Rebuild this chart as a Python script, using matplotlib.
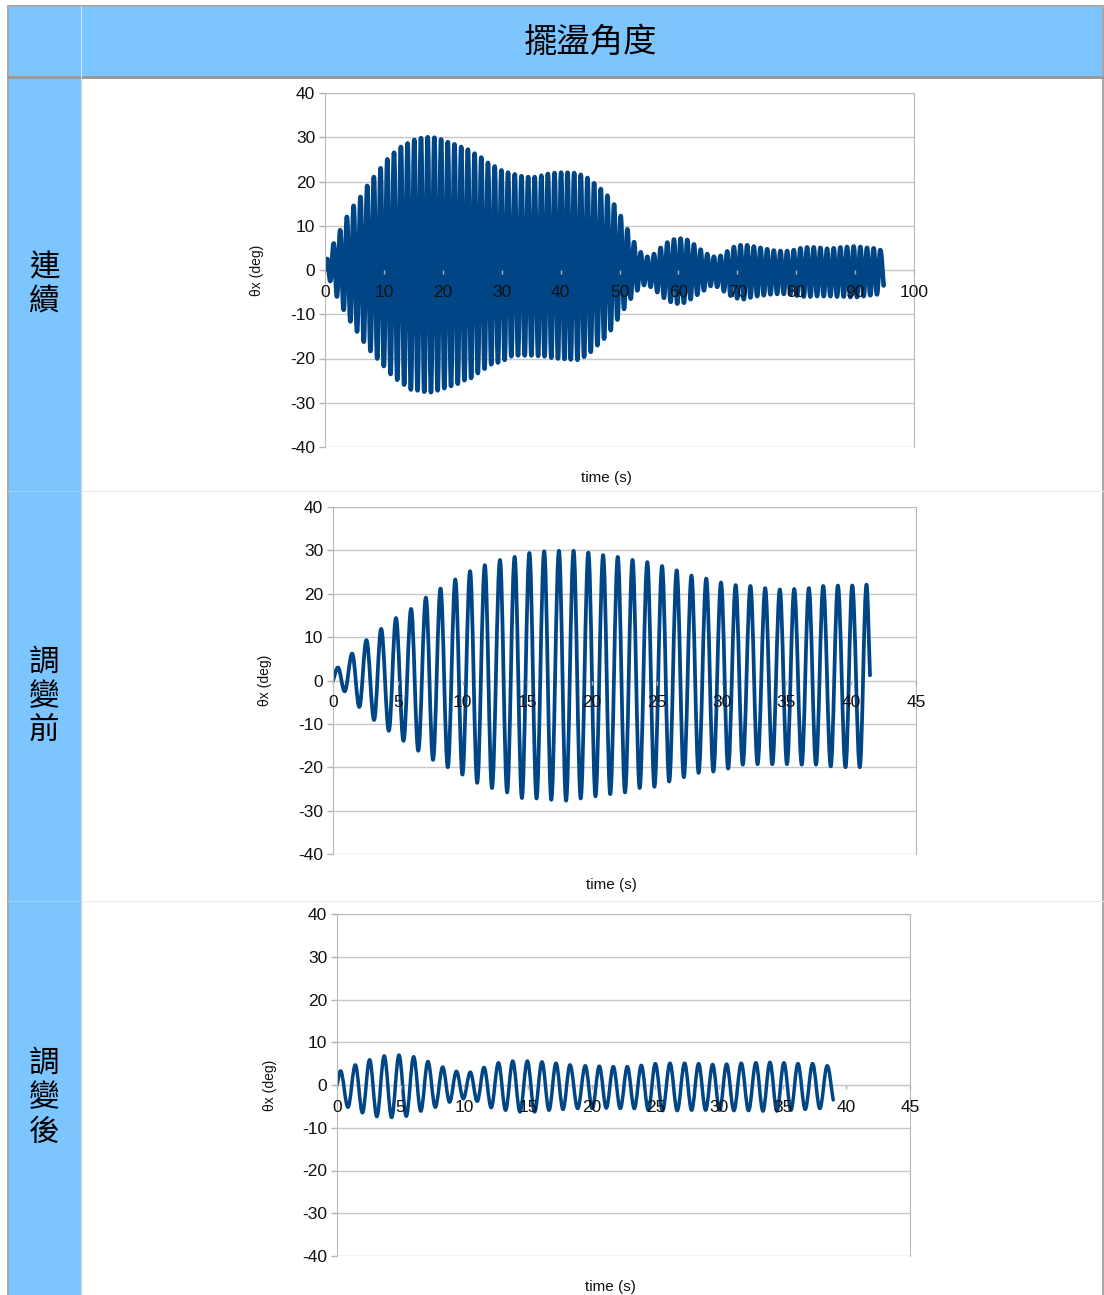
import matplotlib
matplotlib.use('Agg')
import matplotlib.pyplot as plt
from matplotlib.path import Path
from matplotlib.patches import PathPatch, Rectangle
from matplotlib.lines import Line2D

plt.rcParams['font.family'] = ['Liberation Sans', 'DejaVu Sans']
plt.rcParams['axes.unicode_minus'] = False

title = '擺盪角度'
row_labels = ['連\n續', '調\n變\n前', '調\n變\n後']

# --- 連續 (0-95 s): peaks and troughs ---
t1_max = [0.38, 1.48, 2.58, 3.72, 4.86, 6.03, 7.17, 8.30, 9.44, 10.58, 11.72, 12.89, 14.02,
          15.16, 16.30, 17.44, 18.57, 19.71, 20.85, 21.98, 23.12, 24.26, 25.40, 26.53, 27.67,
          28.81, 29.95, 31.08, 32.22, 33.36, 34.49, 35.60, 36.73, 37.84, 38.97, 40.08, 41.18,
          42.30, 43.43, 44.56, 45.69, 46.82, 47.95, 49.08, 50.21, 51.34, 52.47, 53.60, 54.73,
          55.86, 56.99, 58.12, 59.25, 60.38, 61.51, 62.64, 63.77, 64.90, 66.03, 67.16, 68.29,
          69.42, 70.55, 71.68, 72.81, 73.94, 75.07, 76.20, 77.33, 78.46, 79.59, 80.72, 81.85,
          82.98, 84.11, 85.24, 86.37, 87.50, 88.63, 89.76, 90.89, 92.02, 93.15, 94.28]
th1_max = [2.5, 6, 9, 12, 14.5, 16.5, 19, 21, 23, 25, 26.5, 27.8, 28.6, 29.4, 29.8, 30, 29.9,
           29.5, 28.9, 28.4, 27.8, 27.2, 26.3, 25.4, 24.2, 23.4, 22.5, 22, 21.6, 21.2, 21, 21,
           21.3, 21.7, 21.9, 22, 22,
           21.9, 21.5, 20.8, 19.6, 18.3, 16.8, 14.8, 12.2, 9.2, 6.3, 4.0, 3.0, 3.6, 5.0, 6.2,
           6.9, 7.1, 6.8, 5.8, 4.6, 3.6, 3.0, 3.2, 4.2, 5.2, 5.6, 5.6, 5.3, 5.0, 4.7, 4.4, 4.3,
           4.3, 4.5, 4.9, 5.1, 5.1, 5.0, 4.8, 4.9, 5.1, 5.2, 5.3, 5.2, 5.0, 4.9, 4.5]
t1_min = [0.90, 2.03, 3.17, 4.31, 5.44, 6.58, 7.72, 8.86, 9.99, 11.13, 12.27, 13.44, 14.58,
          15.71, 16.85, 17.99, 19.12, 20.26, 21.40, 22.54, 23.67, 24.81, 25.95, 27.08, 28.22,
          29.36, 30.50, 31.63, 32.77, 33.91, 35.04, 36.18, 37.28, 38.42, 39.56, 40.66,
          41.73, 42.86, 43.99, 45.12, 46.25, 47.38, 48.51, 49.64, 50.77, 51.90, 53.03, 54.16,
          55.29, 56.42, 57.55, 58.68, 59.81, 60.94, 62.07, 63.20, 64.33, 65.46, 66.59, 67.72,
          68.85, 69.98, 71.11, 72.24, 73.37, 74.50, 75.63, 76.76, 77.89, 79.02, 80.15, 81.28,
          82.41, 83.54, 84.67, 85.80, 86.93, 88.06, 89.19, 90.32, 91.45, 92.58, 93.71]
th1_min = [-2.5, -6, -9, -11.6, -13.9, -16.2, -18.3, -20, -21.7, -23.5, -24.8, -25.9, -27,
           -27.2, -27.5, -27.6, -27.2, -26.7, -26.2, -25.7, -24.9, -24.4, -23.3, -22.3, -21.3,
           -20.9, -20.3, -19.5, -19.3, -19.3, -19.3, -19.4, -19.5, -19.8, -20, -20.1,
           -20.2, -20.3, -19.6, -18.5, -17.0, -15.5, -13.6, -11.2, -8.8, -6.5, -4.6, -3.4,
           -3.8, -5.0, -6.3, -7.2, -7.6, -7.4, -6.6, -5.6, -4.6, -3.6, -3.8, -4.8, -5.8, -6.4,
           -6.6, -6.2, -5.9, -5.7, -5.5, -5.4, -5.4, -5.5, -5.8, -6.0, -6.0, -5.9, -5.9, -5.9,
           -6.0, -6.0, -6.1, -6.1, -5.9, -5.7, -5.5]
t1_ends, th1_ends = [0, 94.85], [0, -3.5]

# --- 調變前 (0-41.5 s) ---
t2_max = [0.38, 1.48, 2.58, 3.72, 4.86, 6.03, 7.17, 8.30, 9.44, 10.58, 11.72, 12.89, 14.02,
          15.16, 16.30, 17.44, 18.57, 19.71, 20.85, 21.98, 23.12, 24.26, 25.40, 26.53, 27.67,
          28.81, 29.95, 31.08, 32.22, 33.36, 34.49, 35.60, 36.73, 37.84, 38.97, 40.08, 41.18]
th2_max = [3.0, 6.2, 9.3, 11.9, 14.4, 16.5, 19.1, 21.2, 23.3, 25.2, 26.6, 27.8, 28.5, 29.4,
           29.8, 29.9, 29.9, 29.5, 28.9, 28.5, 27.8, 27.3, 26.4, 25.4, 24.2, 23.5, 22.6, 22.0,
           21.8, 21.3, 21.0, 21.1, 21.3, 21.8, 21.9, 21.9, 22.1]
t2_min = [0.90, 2.03, 3.17, 4.31, 5.44, 6.58, 7.72, 8.86, 9.99, 11.13, 12.27, 13.44, 14.58,
          15.71, 16.85, 17.99, 19.12, 20.26, 21.40, 22.54, 23.67, 24.81, 25.95, 27.08, 28.22,
          29.36, 30.50, 31.63, 32.77, 33.91, 35.04, 36.18, 37.28, 38.42, 39.56, 40.66]
th2_min = [-2.5, -6.1, -9.1, -11.6, -13.9, -16.2, -18.3, -20.0, -21.7, -23.6, -24.8, -25.8,
           -27.1, -27.2, -27.5, -27.7, -27.2, -26.7, -26.2, -25.8, -24.8, -24.5, -23.3, -22.3,
           -21.3, -21.0, -20.3, -19.4, -19.3, -19.3, -19.3, -19.4, -19.4, -19.8, -20.0, -20.0]
t2_ends, th2_ends = [0, 41.45], [0, 1.2]

# --- 調變後 (0-39 s) ---
t3_max = [0.28, 1.44, 2.56, 3.71, 4.87, 6.02, 7.14, 8.30, 9.38, 10.47, 11.55, 12.68, 13.80,
          14.95, 16.10, 17.20, 18.30, 19.50, 20.60, 21.70, 22.80, 23.90, 25.00, 26.15, 27.30,
          28.40, 29.50, 30.60, 31.75, 32.90, 34.00, 35.10, 36.20, 37.35, 38.50]
th3_max = [3.3, 4.7, 5.9, 6.8, 7.0, 6.6, 5.5, 4.2, 3.2, 3.0, 4.1, 5.2, 5.6, 5.6, 5.4, 5.1,
           4.7, 4.5, 4.4, 4.3, 4.3, 4.6, 5.0, 5.1, 5.1, 5.0, 4.8, 4.9, 5.1, 5.2, 5.3, 5.2,
           5.0, 5.0, 4.5]
t3_min = [0.86, 2.00, 3.13, 4.29, 5.44, 6.58, 7.72, 8.84, 9.92, 11.01, 12.11, 13.24, 14.37,
          15.52, 16.65, 17.75, 18.90, 20.05, 21.15, 22.25, 23.35, 24.45, 25.57, 26.72, 27.85,
          28.95, 30.05, 31.17, 32.32, 33.45, 34.55, 35.65, 36.77, 37.92]
th3_min = [-5.2, -6.5, -7.4, -7.6, -7.3, -6.1, -5.2, -4.0, -3.2, -3.8, -5.3, -5.9, -6.3, -6.3,
           -5.9, -5.7, -5.5, -5.5, -5.4, -5.5, -5.5, -5.9, -6.0, -6.0, -5.9, -5.9, -5.9, -6.0,
           -6.0, -6.1, -6.1, -5.9, -5.7, -5.5]
t3_ends, th3_ends = [0, 38.97], [0, -3.5]

W, H = 1104, 1295
fig = plt.figure(figsize=(W / 100, H / 100), dpi=100, facecolor='white')
blue = '#7dc5ff'
line_c = '#004586'


def fx(px):
    return px / W


def fy(py):
    return 1 - py / H


# table background
fig.add_artist(Rectangle((fx(8), 0), fx(73), fy(6), color=blue, zorder=0))
fig.add_artist(Rectangle((fx(8), fy(77)), fx(1095), fy(6) - fy(77), color=blue, zorder=0))
for x0, y0, x1, y1, c, lw in [(8, 6, 1103, 6, '#a8a8a8', 2), (8, 6, 8, 1295, '#a8a8a8', 2),
                              (1103, 6, 1103, 1295, '#a8a8a8', 2), (8, 77, 1103, 77, '#9a9a9a', 3),
                              (81, 6, 81, 77, '#cfe8ff', 1), (81, 77, 81, 1295, '#d9d9d9', 1),
                              (81, 491, 1103, 491, '#ececec', 1), (81, 901, 1103, 901, '#ececec', 1),
                              (8, 491, 81, 491, '#9fd3ff', 1), (8, 901, 81, 901, '#9fd3ff', 1)]:
    fig.add_artist(Line2D([fx(x0), fx(x1)], [fy(y0), fy(y1)], color=c, lw=lw * 0.72, zorder=1))

fig.text(fx(590), fy(42), title, ha='center', va='center', fontsize=24,
         family=['Noto Sans CJK TC', 'DejaVu Sans'])
for lab, yc in zip(row_labels, [285, 697, 1098]):
    fig.text(fx(44), fy(yc), lab, ha='center', va='center', fontsize=22, linespacing=1.15,
             family=['Noto Sans CJK TC', 'DejaVu Sans'])


def wave(t_max, v_max, t_min, v_min, t_ends, v_ends):
    pts = [(t_ends[0], v_ends[0], False)]
    for i in range(len(t_max)):
        pts.append((t_max[i], v_max[i], True))
        if i < len(t_min):
            pts.append((t_min[i], v_min[i], True))
    pts.append((t_ends[1], v_ends[1], False))
    verts = [pts[0][:2]]
    codes = [Path.MOVETO]
    for (x0, y0, e0), (x1, y1, e1) in zip(pts[:-1], pts[1:]):
        dx, dy = x1 - x0, y1 - y0
        verts += [(x0 + 0.36 * dx, y0 if e0 else y0 + 0.36 * dy),
                  (x1 - 0.36 * dx, y1 if e1 else y1 - 0.36 * dy), (x1, y1)]
        codes += [Path.CURVE4] * 3
    return Path(verts, codes)


charts = [
    ((325, 93, 914, 447), 100, 10, (t1_max, th1_max, t1_min, th1_min, t1_ends, th1_ends), 3.3),
    ((333, 507, 916, 854), 45, 5, (t2_max, th2_max, t2_min, th2_min, t2_ends, th2_ends), 2.7),
    ((337, 914, 910, 1256), 45, 5, (t3_max, th3_max, t3_min, th3_min, t3_ends, th3_ends), 2.5),
]

for (l, t, r, b), xmax, xstep, series, lw in charts:
    ax = fig.add_axes([fx(l), fy(b), fx(r) - fx(l), fy(t) - fy(b)])
    ax.set_axisbelow(False)
    ax.set_xlim(0, xmax)
    ax.set_ylim(-40, 40)
    ax.set_xticks(range(0, xmax + 1, xstep))
    ax.set_yticks(range(-40, 41, 10))
    for yv in range(-40, 41, 10):
        ax.axhline(yv, color='#c8c8c8', lw=1, zorder=0.5)
    for s in ['top', 'right', 'left']:
        ax.spines[s].set_color('#b8b8b8')
    ax.spines['bottom'].set_position(('data', 0))
    ax.spines['bottom'].set_color('#c8c8c8')
    ax.spines['bottom'].set_zorder(0.6)
    ax.tick_params(axis='both', colors='#b3b3b3', labelcolor='#111111', labelsize=12.5,
                   length=4, width=1)
    ax.tick_params(axis='x', pad=7.5, length=3)
    ax.tick_params(axis='y', pad=3)
    ax.add_patch(PathPatch(wave(*series), fill=False, edgecolor=line_c, lw=lw,
                           capstyle='round', joinstyle='round', zorder=2))
    ax.set_ylabel('θx (deg)', fontsize=10, color='#111111')
    ax.yaxis.set_label_coords(-0.104, 0.5)
    ax.set_xlabel('time (s)', fontsize=11, color='#111111')
    ax.xaxis.set_label_coords(0.477, -24 / (b - t))

fig.savefig('out.png', dpi=100, facecolor='white')
